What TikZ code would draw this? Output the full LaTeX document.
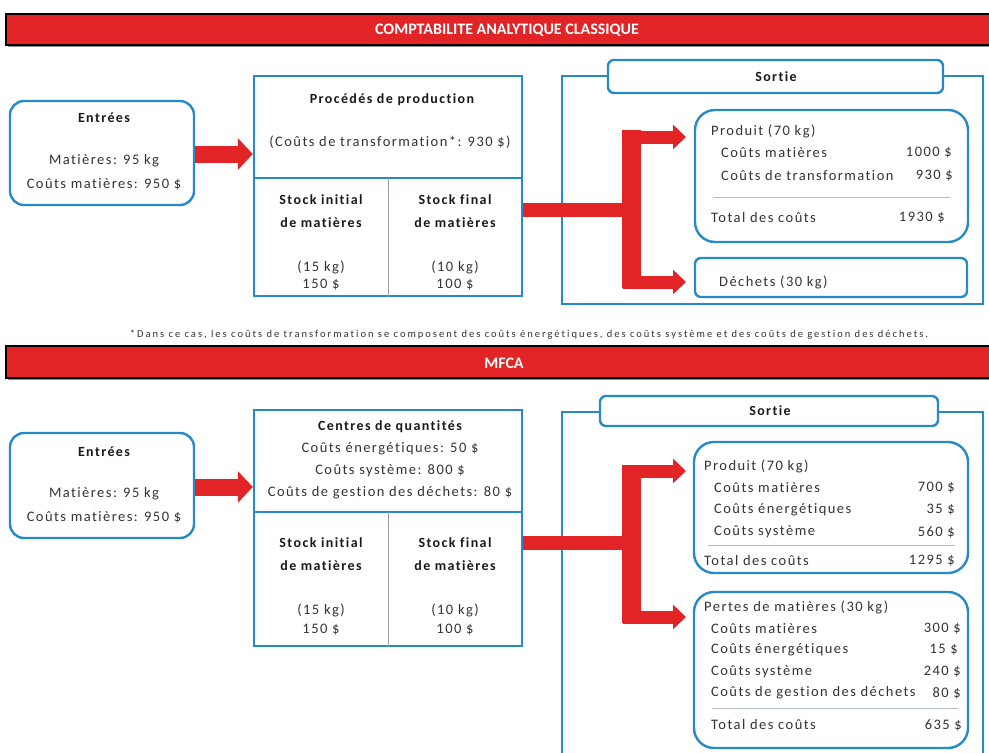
\documentclass[tikz,border=0pt]{standalone}
\usepackage{fontspec}
\setmainfont{Carlito}[Ligatures=NoCommon]
\newfontfamily\bodyfont{Carlito}[LetterSpace=10,Ligatures=NoCommon]
\newfontfamily\headfont{Carlito}[LetterSpace=10,Ligatures=NoCommon]
\newfontfamily\notefont{Carlito}[LetterSpace=19,Ligatures=NoCommon]
\usetikzlibrary{arrows.meta,fit}
\definecolor{barred}{RGB}{226,36,38}
\definecolor{boxblue}{RGB}{38,138,200}
\definecolor{rulegrey}{RGB}{150,160,170}

\tikzset{
  banner/.style={draw=black, line width=1.4pt, fill=barred, inner sep=0pt},
  bannershadow/.style={fill=black!45, draw=none, inner sep=0pt},
  bannertext/.style={text=white, font=\bfseries\fontsize{16}{18}\selectfont, inner sep=0pt},
  roundbox/.style={draw=boxblue, line width=2.4pt, rounded corners=14pt, fill=white, inner sep=0pt},
  squarebox/.style={draw=boxblue, line width=2.4pt, inner sep=0pt},
  tagbox/.style={draw=boxblue, line width=2.4pt, rounded corners=6pt, fill=white, inner sep=0pt},
  divider/.style={draw=boxblue, line width=2.4pt},
  thindiv/.style={draw=rulegrey, line width=0.8pt},
  sumrule/.style={draw=rulegrey!70, line width=0.7pt},
  head/.style={font=\headfont\bfseries\fontsize{14}{16}\selectfont, inner sep=0pt, text=black!90},
  txt/.style={font=\bodyfont\fontsize{14.5}{17}\selectfont, inner sep=0pt, text=black!80},
  lt/.style={txt, anchor=west},
  rt/.style={txt, anchor=east},
  fatarrow/.style={draw=barred, line width=17pt, -{Triangle[length=15pt,width=31pt]}},
  brancharrow/.style={draw=barred, line width=13pt, -{Triangle[length=13pt,width=24pt]}},
  redbar/.style={draw=barred, line width=19pt},
  stem/.style={draw=barred, line width=14pt},
}

\begin{document}
\begin{tikzpicture}[x=1pt,y=-1pt]
\useasboundingbox (0,0) rectangle (989,753);

% ---------- banner: classical cost accounting ----------
\node[bannershadow, fit={(8,16) (995,47)}] (shA) {};
\node[banner, fit={(6,14) (995,45)}] (bannerA) {};
\node[bannertext] (bannerAtxt) at (507,30) {COMPTABILITE ANALYTIQUE CLASSIQUE};

% ---------- inputs ----------
\node[roundbox, fit={(10,101) (194,205)}] (inA) {};
\node[head] (inAt) at (104,118) {Entrées};
\node[txt] (inAl1) at (104,161) {Matières: 95 kg};
\node[txt] (inAl2) at (104,184) {Coûts matières: 950 \$};

% ---------- production process ----------
\node[squarebox, fit={(254,76) (522,296)}] (prodA) {};
\draw[divider] (prodA.west |- 0,178) -- (prodA.east |- 0,178);
\draw[thindiv] (388,178) -- (prodA.south -| 388,0);
\node[head] (prodAt) at (392,100) {Procédés de production};
\node[txt] (prodAl) at (390,142) {(Coûts de transformation*: 930 \$)};
\node[head] (stkA1) at (321,200) {Stock initial};
\node[head] (stkA2) at (321,223) {de matières};
\node[txt] (stkA3) at (321,267) {(15 kg)};
\node[txt] (stkA4) at (321,285) {150 \$};
\node[head] (stkB1) at (455,200) {Stock final};
\node[head] (stkB2) at (455,223) {de matières};
\node[txt] (stkB3) at (455,267) {(10 kg)};
\node[txt] (stkB4) at (455,285) {100 \$};

% ---------- output frame ----------
\draw[squarebox] (562,76) rectangle (983,304);
\node[tagbox, fit={(608,60) (943,93)}] (outAtag) {};
\node[head] (outAt) at (776,77) {Sortie};

\node[roundbox, rounded corners=20pt, fit={(695,110) (968,242)}] (prodout) {};
\node[lt] (poA1) at (711,131) {Produit (70 kg)};
\node[lt] (poA2) at (721,153) {Coûts matières};
\node[rt] (poA2v) at (952,153) {1000 \$};
\node[lt] (poA3) at (721,176) {Coûts de transformation};
\node[rt] (poA3v) at (953,176) {930 \$};
\draw[sumrule] (713,197) -- (950,197);
\node[lt] (poA4) at (711,218) {Total des coûts};
\node[rt] (poA4v) at (945,218) {1930 \$};

\node[tagbox, fit={(695,258) (967,297)}] (waste) {};
\node[lt] (wasteA) at (719,282) {Déchets (30 kg)};

% ---------- flows ----------
\draw[fatarrow] (inA.east |- 0,154) -- (prodA.west |- 0,154);
\coordinate (jA) at (631,210);
\coordinate (jAtop) at (631,130);
\coordinate (jAbot) at (631,288);
\draw[stem] (prodA.east |- jA) -- (jA);
\draw[redbar] (jAtop) -- (jAbot);
\draw[brancharrow] (623,137) -- (686,137);
\draw[brancharrow] (623,282) -- (686,282);

% ---------- footnote ----------
\node[font=\notefont\fontsize{10.5}{12}\selectfont, inner sep=0pt, text=black!80] (note) at (529,335)
  {*Dans ce cas, les coûts de transformation se composent des coûts énergétiques, des coûts système et des coûts de gestion des déchets.};

% ---------- banner: MFCA ----------
\node[bannershadow, fit={(8,348) (995,380)}] (shB) {};
\node[banner, fit={(6,346) (995,378)}] (bannerB) {};
\node[bannertext] (bannerBtxt) at (504,363) {MFCA};

% ---------- inputs ----------
\node[roundbox, fit={(10,433) (194,538)}] (inB) {};
\node[head] (inBt) at (104,452) {Entrées};
\node[txt] (inBl1) at (104,494) {Matières: 95 kg};
\node[txt] (inBl2) at (104,517) {Coûts matières: 950 \$};

% ---------- quantity centres ----------
\node[squarebox, fit={(254,410) (522,646)}] (cent) {};
\draw[divider] (cent.west |- 0,512) -- (cent.east |- 0,512);
\draw[thindiv] (388,512) -- (cent.south -| 388,0);
\node[head] (centt) at (390,427) {Centres de quantités};
\node[txt] (centl1) at (390,449) {Coûts énergétiques: 50 \$};
\node[txt] (centl2) at (390,471) {Coûts système: 800 \$};
\node[txt] (centl3) at (390,493) {Coûts de gestion des déchets: 80 \$};
\node[head] (stkC1) at (321,543) {Stock initial};
\node[head] (stkC2) at (321,566) {de matières};
\node[txt] (stkC3) at (321,610) {(15 kg)};
\node[txt] (stkC4) at (321,630) {150 \$};
\node[head] (stkD1) at (455,543) {Stock final};
\node[head] (stkD2) at (455,566) {de matières};
\node[txt] (stkD3) at (455,610) {(10 kg)};
\node[txt] (stkD4) at (455,630) {100 \$};

% ---------- output frame ----------
\draw[divider] (562,770) -- (562,412) -- (983,412) -- (983,770);
\node[tagbox, fit={(600,396) (938,426)}] (outBtag) {};
\node[head] (outBt) at (770,411) {Sortie};

\node[roundbox, rounded corners=20pt, fit={(694,442) (968,573)}] (prodoutB) {};
\node[lt] (poB1) at (704,466) {Produit (70 kg)};
\node[lt] (poB2) at (714,488) {Coûts matières};
\node[rt] (poB2v) at (955,488) {700 \$};
\node[lt] (poB3) at (714,510) {Coûts énergétiques};
\node[rt] (poB3v) at (955,510) {35 \$};
\node[lt] (poB4) at (714,532) {Coûts système};
\node[rt] (poB4v) at (955,532) {560 \$};
\draw[sumrule] (708,545) -- (955,545);
\node[lt] (poB5) at (704,561) {Total des coûts};
\node[rt] (poB5v) at (955,561) {1295 \$};

\node[roundbox, rounded corners=20pt, fit={(694,592) (968,748)}] (loss) {};
\node[lt] (ls1) at (704,607) {Pertes de matières (30 kg)};
\node[lt] (ls2) at (711,629) {Coûts matières};
\node[rt] (ls2v) at (961,629) {300 \$};
\node[lt] (ls3) at (711,650) {Coûts énergétiques};
\node[rt] (ls3v) at (958,650) {15 \$};
\node[lt] (ls4) at (711,672) {Coûts système};
\node[rt] (ls4v) at (961,672) {240 \$};
\node[lt] (ls5) at (711,693) {Coûts de gestion des déchets};
\node[rt] (ls5v) at (961,693) {80 \$};
\draw[sumrule] (712,708) -- (958,708);
\node[lt] (ls6) at (711,725) {Total des coûts};
\node[rt] (ls6v) at (962,725) {635 \$};

% ---------- flows ----------
\draw[fatarrow] (inB.east |- 0,487) -- (cent.west |- 0,487);
\coordinate (jB) at (631,543);
\coordinate (jBtop) at (631,465);
\coordinate (jBbot) at (631,623);
\draw[stem] (cent.east |- jB) -- (jB);
\draw[redbar] (jBtop) -- (jBbot);
\draw[brancharrow] (623,471) -- (686,471);
\draw[brancharrow] (623,617) -- (686,617);
\end{tikzpicture}
\end{document}
